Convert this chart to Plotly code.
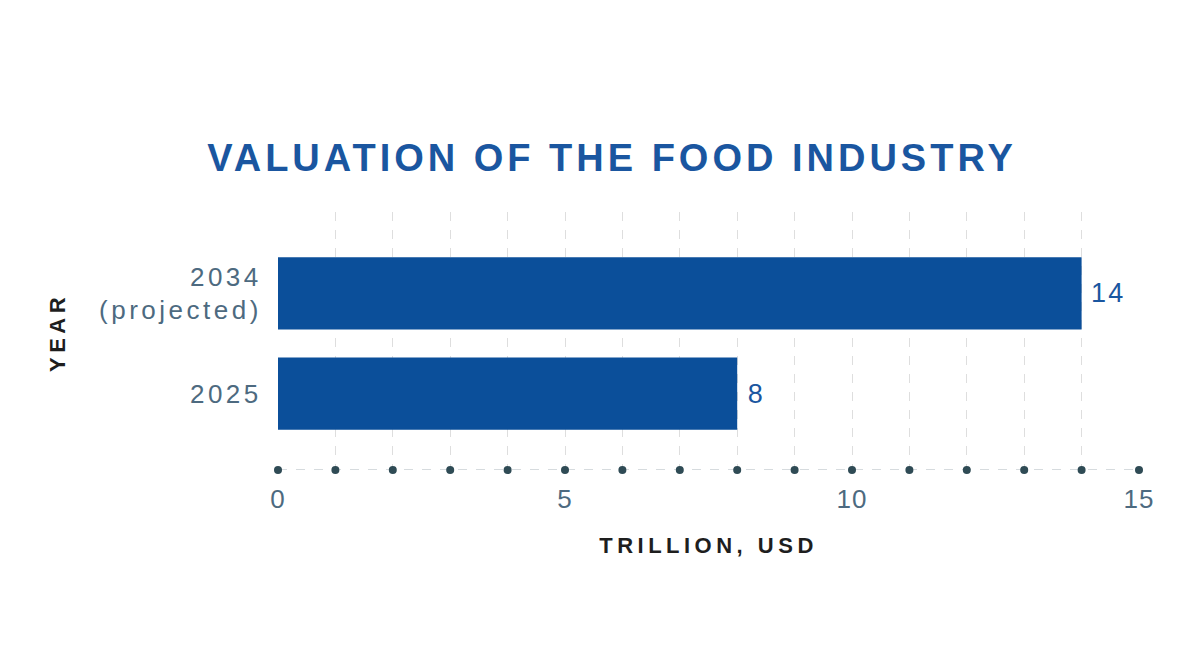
import plotly.graph_objects as go

# values
years = ["2025", "2034<br>(projected)"]
valuation = [8, 14]
axis_ticks = list(range(0, 16))
tick_labels = [0, 5, 10, 15]

BAR_BLUE = "#0b4f9a"
TITLE_BLUE = "#1a56a0"
TICK_GREY = "#4d6a80"
DOT_COLOR = "#2f4b55"
FONT = "Liberation Sans, Arial"

# the page body has an 8px margin, so the figure is sized to fit inside it
W, H = 1192, 662

fig = go.Figure()

fig.add_trace(go.Bar(
    x=valuation,
    y=years,
    orientation="h",
    width=0.72,
    marker=dict(color=BAR_BLUE, line=dict(width=0)),
    texttemplate=" %{x}",
    textposition="outside",
    textfont=dict(family=FONT, size=27, color=TITLE_BLUE),
    cliponaxis=False,
    hoverinfo="skip",
))

# dotted axis line with a marker at each integer
fig.add_trace(go.Scatter(
    x=axis_ticks,
    y=[0] * len(axis_ticks),
    yaxis="y2",
    mode="lines+markers",
    line=dict(color="#c9cfd3", width=1.5, dash="dash"),
    marker=dict(color=DOT_COLOR, size=8),
    cliponaxis=False,
    hoverinfo="skip",
    showlegend=False,
))

fig.update_layout(
    width=W,
    height=H,
    paper_bgcolor="white",
    plot_bgcolor="white",
    showlegend=False,
    margin=dict(l=270, r=61, t=204, b=200),
    title=dict(
        text="<b>VALUATION OF THE FOOD INDUSTRY</b>",
        x=604 / W,
        xanchor="center",
        y=1 - 150 / H,
        yanchor="middle",
        font=dict(family=FONT, size=38, color=TITLE_BLUE),
    ),
    xaxis=dict(
        range=[0, 15],
        tickvals=tick_labels,
        showgrid=True,
        gridcolor="#dedede",
        griddash="dash",
        gridwidth=1,
        minor=dict(dtick=1, showgrid=True, gridcolor="#dedede", griddash="dash", gridwidth=1),
        zeroline=False,
        showline=False,
        ticks="outside",
        ticklen=6,
        tickcolor="rgba(0,0,0,0)",
        tickfont=dict(family=FONT, size=26, color=TICK_GREY),
        title=dict(
            text="<b>TRILLION, USD</b>",
            font=dict(family=FONT, size=22, color="#1e1e1e"),
            standoff=24,
        ),
    ),
    yaxis=dict(
        type="category",
        range=[-0.76, 1.81],
        showgrid=False,
        zeroline=False,
        showline=False,
        ticks="outside",
        ticklen=10,
        tickcolor="rgba(0,0,0,0)",
        tickfont=dict(family=FONT, size=26, color=TICK_GREY),
    ),
    yaxis2=dict(
        overlaying="y",
        range=[0, 1],
        visible=False,
    ),
    annotations=[dict(
        text="<b>YEAR</b>",
        textangle=-90,
        xref="paper",
        yref="paper",
        x=(49 - 270) / 861,
        y=(462 - 325) / 258,
        xanchor="center",
        yanchor="middle",
        showarrow=False,
        font=dict(family=FONT, size=22, color="#1e1e1e"),
    )],
)

# the reference uses tracked (letter-spaced) type
spacing_js = """
var gd = document.getElementById('{plot_id}');
function track() {
    var rules = [['.gtitle', '4px'], ['.xtitle', '4.5px'], ['.annotation-text', '4.5px'],
                 ['.ytick text', '3.5px'], ['.xtick text', '1px'], ['.bartext', '2px']];
    rules.forEach(function (r) {
        gd.querySelectorAll(r[0]).forEach(function (el) { el.style.letterSpacing = r[1]; });
    });
}
track();
gd.on('plotly_afterplot', track);
"""

fig.write_html("out.html", post_script=spacing_js)
